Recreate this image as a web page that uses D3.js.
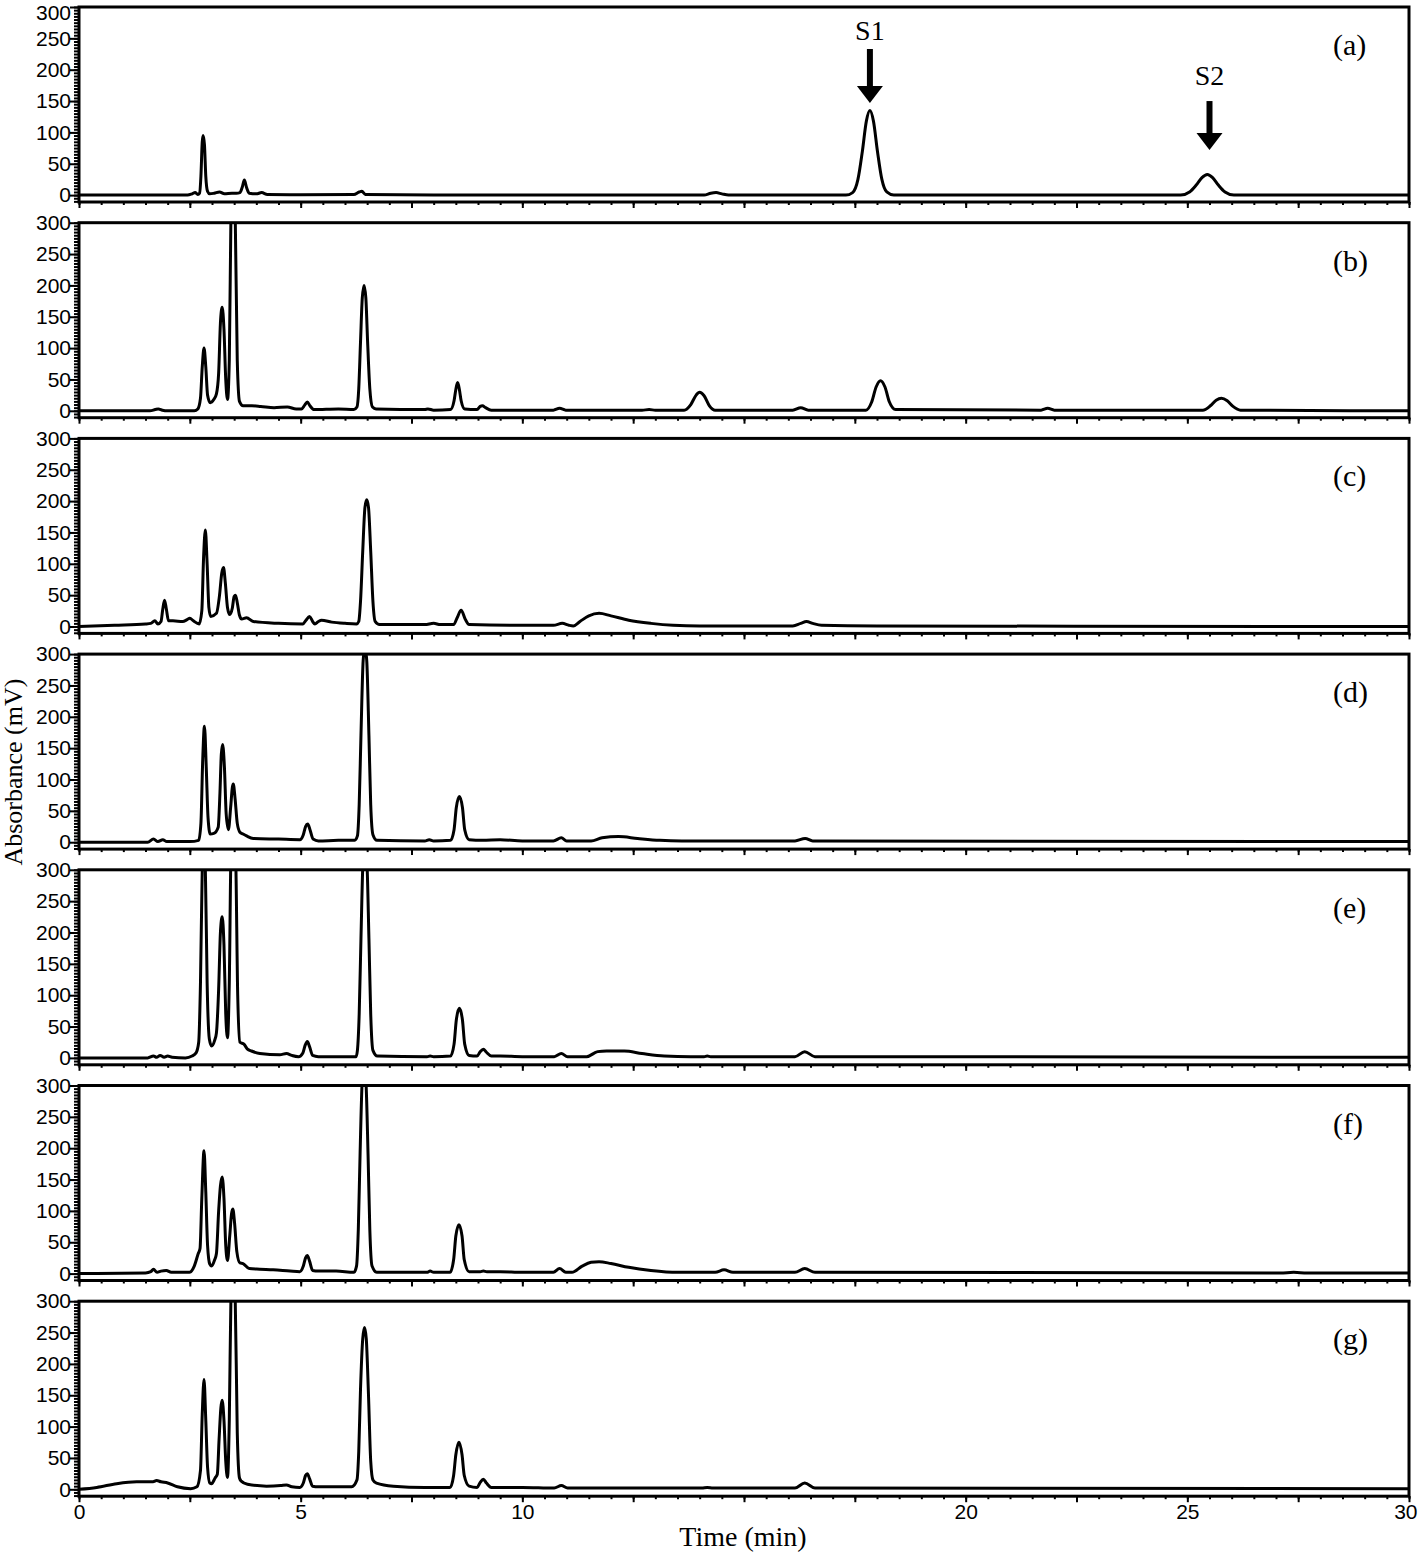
<!DOCTYPE html>
<html lang="en">
<head>
<meta charset="UTF-8">
<title>HPLC chromatograms (a)-(g)</title>
<script src="https://d3js.org/d3.v7.min.js"></script>
<style>
  body { margin: 0; background: #fff; }
  svg { display: block; font-family: "Liberation Serif", "Times New Roman", serif; }
  .tick text { fill: #000; }
  .tick line { stroke: #000; stroke-width: 2px; }
  .domain { display: none; }
</style>
</head>
<body>
<svg id="chart" width="1418" height="1554"></svg>
<script>
// time (min), absorbance (mV)
const chromA = [[0,0],[2.45,0],[2.55,2],[2.62,4],[2.68,1],[2.72,3],[2.75,30],[2.78,85],[2.8,95],[2.83,80],[2.86,30],[2.9,6],[2.95,2],
  [3.05,3],[3.17,5],[3.28,2],[3.45,3],[3.55,3],[3.63,4],[3.68,12],[3.73,24],[3.78,12],[3.84,3],[4.0,2],[4.12,4],[4.25,1],
  [5,0.5],[6.2,1],[6.32,5],[6.38,6],[6.46,1],[8,0],[10,0],[14.1,0],[14.25,3],[14.37,4],[14.5,2],[14.65,0],
  [17.3,0],[17.45,4],[17.57,25],[17.67,70],[17.76,118],[17.84,135],[17.92,118],[18.01,70],[18.11,25],[18.22,5],[18.38,0],
  [21,0],[24.85,0],[25.05,5],[25.2,16],[25.33,28],[25.45,33],[25.57,28],[25.7,16],[25.85,5],[26.05,0],[30,0]];

const chromB = [[0,0],[1.6,0],[1.72,2],[1.79,3],[1.88,1],[2.0,0],[2.6,0],[2.68,3],[2.74,20],[2.78,70],[2.82,100],[2.86,70],[2.9,25],[2.96,13],
  [3.04,18],[3.1,27],[3.15,60],[3.19,140],[3.23,165],[3.27,130],[3.31,50],[3.35,18],
  [3.39,80],[3.43,330],[3.47,420],[3.52,330],[3.57,80],[3.62,15],
  [3.7,8],[3.9,8],[4.1,7],[4.4,5],[4.7,6],[4.9,3],[5.02,3],[5.09,9],[5.15,14],[5.21,8],[5.3,2],[5.85,3],[6.2,2],
  [6.27,6],[6.31,35],[6.35,110],[6.39,180],[6.43,200],[6.47,180],[6.51,110],[6.56,35],[6.62,6],[6.7,3],
  [7.8,2],[7.87,3],[8.0,1],[8.38,2],[8.46,16],[8.5,34],[8.54,45],[8.58,34],[8.62,16],[8.7,3],
  [8.98,2],[9.05,7],[9.1,8],[9.17,5],[9.3,1],[10.7,1],[10.84,4],[10.98,1],[12.7,1],[12.86,2],[13.0,1],
  [13.65,1],[13.8,10],[13.92,25],[14.0,29.5],[14.1,24],[14.22,8],[14.35,1],
  [16.1,1],[16.28,5],[16.45,1],
  [17.75,1],[17.88,14],[17.98,38],[18.08,48],[18.18,38],[18.28,14],[18.42,2],
  [21.7,1],[21.85,4],[22.0,1],
  [25.35,1],[25.52,8],[25.65,17],[25.77,20],[25.9,16],[26.03,7],[26.2,1],[30,0]];

const chromC = [[0,0],[0.8,2],[1.5,4],[1.62,5],[1.71,9],[1.78,4],[1.85,8],[1.89,28],[1.93,42],[1.97,28],[2.02,9],
  [2.12,9],[2.34,8],[2.44,11],[2.5,13],[2.58,9],[2.71,4],
  [2.77,25],[2.81,110],[2.85,154],[2.89,100],[2.93,30],[2.97,16],
  [3.1,21],[3.17,50],[3.22,85],[3.26,94],[3.3,70],[3.35,30],[3.4,19],
  [3.46,30],[3.5,48],[3.53,50],[3.57,38],[3.62,18],[3.67,12],[3.78,14],[3.93,8],[4.5,5],[5.05,4],
  [5.12,10],[5.2,16],[5.27,8],[5.32,4],[5.4,8],[5.47,10],[5.7,7],[6.0,5],[6.26,4],
  [6.31,8],[6.35,40],[6.4,120],[6.45,190],[6.49,202],[6.53,190],[6.58,120],[6.63,40],[6.68,8],[6.78,3],
  [7.8,3],[8.0,5],[8.15,3],[8.45,3],[8.53,14],[8.62,26],[8.71,12],[8.8,3],[10.0,2],[10.7,2],[10.9,5],[11.05,2],[11.15,1],
  [11.3,8],[11.5,17],[11.73,21],[12.0,17],[12.4,10],[12.9,5],[13.4,2],[14,1],
  [16.1,1],[16.28,5],[16.41,8],[16.55,5],[16.75,2],[18,1],[30,0]];

const chromD = [[0,0],[1.55,0],[1.68,5],[1.78,1],[1.89,4],[1.98,1],[2.5,1],[2.7,3],
  [2.75,30],[2.79,130],[2.83,185],[2.87,120],[2.91,40],[2.96,13],
  [3.04,14],[3.14,24],[3.18,80],[3.21,140],[3.24,156],[3.28,120],[3.32,45],[3.37,20],
  [3.42,55],[3.46,88],[3.48,93],[3.52,70],[3.57,30],[3.63,16],[3.7,13],[3.78,10],[3.93,6],[4.5,5],[4.98,4],
  [5.06,12],[5.11,25],[5.16,29],[5.21,20],[5.28,5],[5.4,2],[5.85,3],[6.22,3],
  [6.28,10],[6.32,60],[6.36,170],[6.41,290],[6.45,310],[6.49,290],[6.54,170],[6.58,60],[6.63,12],[6.72,3],
  [7.8,2],[7.9,4],[8.0,2],[8.38,3],[8.46,20],[8.51,55],[8.58,73],[8.65,55],[8.7,20],[8.8,4],
  [9.1,3],[9.5,4],[10,2],[10.7,2],[10.88,7],[11.0,2],[11.55,2],[11.8,7],[12.17,9],[12.6,6],[13.1,3],[13.6,2],
  [16.15,2],[16.38,6],[16.55,2],[30,1]];

const chromE = [[0,0],[1.55,0],[1.68,3],[1.75,1],[1.83,4],[1.92,1],[2.0,3],[2.1,1],[2.4,0],[2.55,3],[2.64,8],
  [2.7,25],[2.74,120],[2.78,300],[2.81,340],[2.85,300],[2.89,120],[2.94,30],[2.99,19],
  [3.06,28],[3.1,40],[3.15,110],[3.19,200],[3.23,225],[3.27,180],[3.31,70],[3.35,32],
  [3.39,120],[3.43,330],[3.48,360],[3.53,330],[3.58,100],[3.63,25],[3.72,22],[3.8,14],[3.89,11],[4.08,7],[4.53,5],[4.68,7],[4.8,4],[4.95,2],
  [5.05,8],[5.1,20],[5.15,26],[5.2,18],[5.27,4],[5.4,2],[6.25,2],
  [6.28,12],[6.32,70],[6.36,190],[6.41,320],[6.45,340],[6.49,320],[6.54,190],[6.58,70],[6.63,12],[6.73,3],
  [7.85,2],[7.92,3],[8.0,2],[8.38,3],[8.46,22],[8.51,60],[8.58,79],[8.65,60],[8.7,22],[8.8,4],
  [8.98,3],[9.05,10],[9.12,14],[9.19,9],[9.3,3],[9.5,3],[10,2],[10.72,2],[10.88,7],[11.02,2],[11.45,2],
  [11.7,10],[11.9,11],[12.3,11],[12.7,7],[13.2,3],[13.8,2],[14.1,2],[14.17,3],[14.25,2],
  [16.15,2],[16.37,10],[16.6,2],[30,1]];

const chromF = [[0,0],[1.5,1],[1.62,3],[1.68,7],[1.76,2],[1.85,4],[1.97,5],[2.08,2],[2.49,2],[2.6,12],[2.69,32],[2.73,40],
  [2.77,120],[2.82,196],[2.86,130],[2.9,45],[2.95,15],[2.99,12],
  [3.06,22],[3.1,32],[3.15,100],[3.19,140],[3.23,154],[3.27,120],[3.31,45],[3.35,21],
  [3.4,60],[3.44,95],[3.47,103],[3.51,80],[3.56,35],[3.63,17],[3.7,16],[3.84,8],[4.08,7],[4.38,6],[4.76,4],[4.98,3],
  [5.06,12],[5.11,25],[5.15,29],[5.2,20],[5.27,5],[5.4,4],[5.8,4],[6.2,2],
  [6.26,12],[6.3,70],[6.34,190],[6.39,310],[6.43,330],[6.47,310],[6.52,190],[6.56,70],[6.61,12],[6.72,2],
  [7.85,2],[7.92,4],[8.0,2],[8.37,2],[8.45,22],[8.5,60],[8.57,78],[8.64,60],[8.69,22],[8.8,3],
  [9.05,3],[9.12,4],[9.2,3],[9.5,3],[10,2],[10.7,2],[10.84,8],[10.98,2],[11.12,2],
  [11.35,12],[11.55,18],[11.73,19],[12.0,16],[12.4,10],[12.9,5],[13.5,2],[14.35,2],[14.55,6],[14.75,2],
  [16.15,2],[16.37,8],[16.6,2],[27.1,1],[27.4,2],[27.7,1],[30,1]];

const chromG = [[0,0],[0.4,3],[0.85,9],[1.3,12],[1.67,12],[1.75,14],[1.85,12],[2.0,10],[2.22,4],[2.52,1],[2.66,4],
  [2.74,30],[2.78,120],[2.82,175],[2.86,110],[2.9,35],[2.95,10],[2.99,9],
  [3.07,18],[3.12,24],[3.16,80],[3.2,130],[3.23,142],[3.27,110],[3.31,45],[3.35,19],
  [3.39,110],[3.43,320],[3.47,370],[3.52,320],[3.57,90],[3.62,18],[3.66,13],[3.8,8],[4.23,5],[4.55,6],[4.68,7],[4.8,4],[4.98,3],
  [5.06,10],[5.11,22],[5.15,25],[5.2,17],[5.27,5],[5.4,4],[6.15,4],
  [6.27,15],[6.31,60],[6.35,160],[6.4,240],[6.44,258],[6.48,240],[6.53,150],[6.58,45],[6.63,15],[6.71,10],[7.09,5],[7.8,3],
  [8.37,3],[8.45,22],[8.5,55],[8.57,75],[8.64,55],[8.69,22],[8.8,5],[8.98,3],[9.05,11],[9.12,16],[9.19,10],[9.3,3],
  [10,3],[10.72,2],[10.88,6],[11.02,2],[14.05,2],[14.17,3],[14.3,2],[16.15,2],[16.37,10],[16.6,2],[30,1]];

const series = [chromA, chromB, chromC, chromD, chromE, chromF, chromG];
const panelLabels = ["(a)", "(b)", "(c)", "(d)", "(e)", "(f)", "(g)"];
const yLabelTicks = [0, 50, 100, 150, 200, 250, 300];
const xLabelTicks = [0, 5, 10, 20, 25, 30];  // "15" sits under the axis title in the figure
// standard peaks marked in panel (a): time, arrow tip, arrow top, text baseline (mV)
const markers = [
  {name: "S1", t: 17.84, tip: 147, top: 233, text: 247},
  {name: "S2", t: 25.5, tip: 72, top: 150, text: 176}
];

const svg = d3.select("#chart");
const left = 79, right = 1409, top0 = 7, step = 215.7, panelH = 195;

const x = d3.scaleLinear().domain([0, 30]).range([left, right]);

series.forEach((data, i) => {
  const top = top0 + i * step;
  const y = d3.scaleLinear().domain([-11, 300]).range([top + panelH, top]);
  const g = svg.append("g");

  g.append("clipPath").attr("id", "clip" + i)
    .append("rect").attr("x", left).attr("y", top).attr("width", right - left).attr("height", panelH);

  // minor y ticks every 5 mV
  g.append("g").attr("transform", `translate(${left},0)`)
    .call(d3.axisLeft(y).tickValues(d3.range(-10, 301, 5)).tickSize(5).tickFormat(""));
  // major y ticks with labels
  const yMajor = g.append("g").attr("transform", `translate(${left},0)`)
    .call(d3.axisLeft(y).tickValues(yLabelTicks).tickSize(9).tickPadding(-1));
  yMajor.selectAll("text").style("font-size", "21px");
  if (i === 0) yMajor.selectAll("text").filter(d => d === 300).attr("dy", "0.58em");

  // x ticks below each frame
  g.append("g").attr("transform", `translate(0,${top + panelH})`)
    .call(d3.axisBottom(x).tickValues(d3.range(0, 30.01, 0.5)).tickSize(3).tickFormat(""));
  const xMajor = g.append("g").attr("transform", `translate(0,${top + panelH})`)
    .call(d3.axisBottom(x).tickValues(d3.range(0, 30.01, 2.5)).tickSize(6).tickPadding(2)
      .tickFormat(d => (i === series.length - 1 && xLabelTicks.includes(d)) ? d : ""));
  xMajor.selectAll("text").style("font-size", "21px");
  xMajor.selectAll("text").filter(d => d === 30).attr("text-anchor", "end").attr("dx", 8);

  g.append("path")
    .datum(data)
    .attr("clip-path", `url(#clip${i})`)
    .attr("fill", "none")
    .attr("stroke", "#000")
    .attr("stroke-width", 3)
    .attr("stroke-linejoin", "round")
    .attr("d", d3.line().x(d => x(d[0])).y(d => y(d[1])).curve(d3.curveMonotoneX));

  g.append("rect")
    .attr("x", left).attr("y", top).attr("width", right - left).attr("height", panelH)
    .attr("fill", "none").attr("stroke", "#000").attr("stroke-width", 3);

  g.append("text")
    .attr("x", right - 76).attr("y", top + 48)
    .style("font-size", "30px")
    .text(panelLabels[i]);

  if (i === 0) {
    markers.forEach(m => {
      const cx = x(m.t);
      g.append("text")
        .attr("x", cx).attr("y", y(m.text))
        .attr("text-anchor", "middle")
        .style("font-size", "28px")
        .text(m.name);
      g.append("line")
        .attr("x1", cx).attr("x2", cx)
        .attr("y1", y(m.top)).attr("y2", y(m.tip) - 14)
        .attr("stroke", "#000").attr("stroke-width", 6);
      g.append("path")
        .attr("d", `M${cx - 13},${y(m.tip) - 17} L${cx + 13},${y(m.tip) - 17} L${cx},${y(m.tip)} Z`)
        .attr("fill", "#000");
    });
  }
});

svg.append("text")
  .attr("x", 743).attr("y", 1546)
  .attr("text-anchor", "middle")
  .style("font-size", "28px")
  .text("Time (min)");

svg.append("text")
  .attr("transform", `translate(22,${top0 + 3 * step + 118}) rotate(-90)`)
  .attr("text-anchor", "middle")
  .style("font-size", "26px")
  .text("Absorbance (mV)");
</script>
</body>
</html>
